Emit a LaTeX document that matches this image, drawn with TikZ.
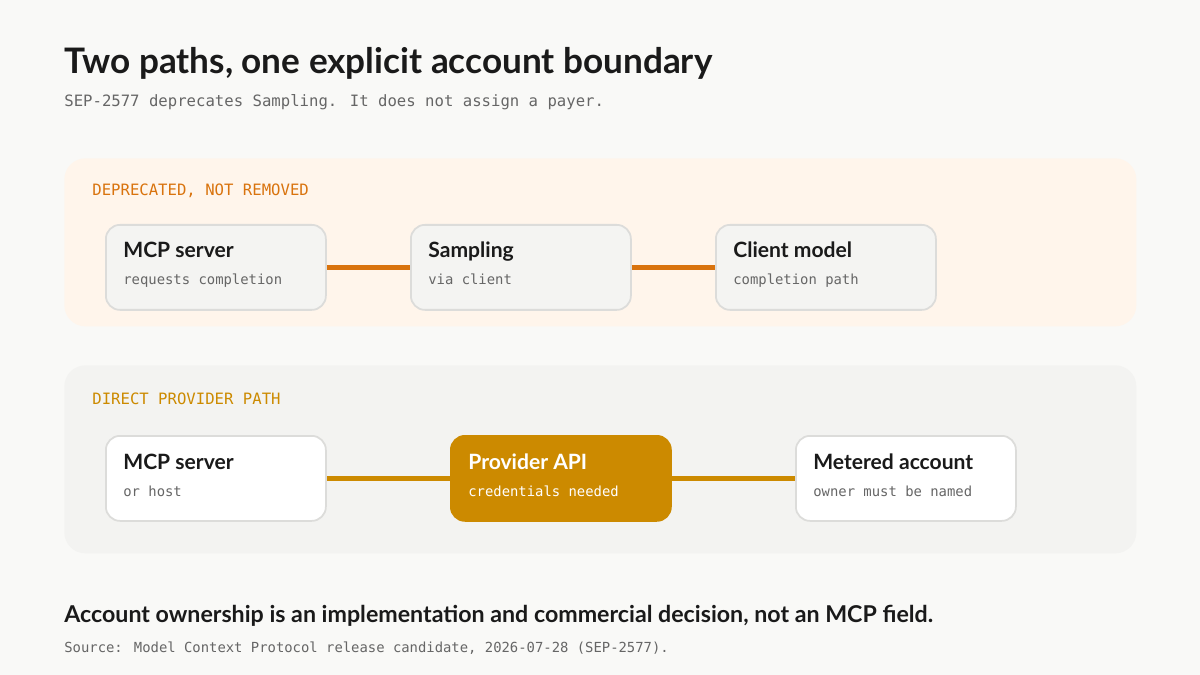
\documentclass[tikz,border=0pt]{standalone}
\usepackage{fontspec}
\setmainfont{Lato}
\newfontfamily\monofont{DejaVu Sans Mono}
\usetikzlibrary{positioning}
\definecolor{bgpage}{HTML}{F9F9F7}
\definecolor{bgtop}{HTML}{FFF5EB}
\definecolor{bgbot}{HTML}{F3F3F1}
\definecolor{boxgray}{HTML}{F4F4F2}
\definecolor{edgegray}{HTML}{DCDCDA}
\definecolor{orangeln}{HTML}{D9730D}
\definecolor{goldln}{HTML}{CC8A00}
\definecolor{ink}{HTML}{1A1A1A}
\definecolor{subink}{HTML}{666666}
\tikzset{
    panel/.style={rounded corners=12pt,draw=none,anchor=north west,inner sep=0},
    card/.style={rounded corners=8pt,draw=edgegray,line width=1pt,anchor=north west,minimum width=220*0.02cm,minimum height=85*0.02cm,inner sep=0},
    head/.style={anchor=base west,font=\bfseries\fontsize{12}{14}\selectfont,text=ink,inner sep=0},
    sub/.style={anchor=base west,font=\monofont\fontsize{7.9}{9}\selectfont,text=subink,inner sep=0},
    tag/.style={anchor=base west,font=\monofont\fontsize{8.9}{10}\selectfont,inner sep=0},
    link/.style={line width=3pt}
}
\def\card#1#2#3#4#5#6{%
  \node[card,fill=#4] (#1) at #2 {};
  \node[head,#6] at ([xshift=18*0.02cm,yshift=-34*0.02cm]#1.north west) {#3};
  \node[sub,#6] at ([xshift=18*0.02cm,yshift=-61*0.02cm]#1.north west) {#5};
}
\begin{document}
\begin{tikzpicture}[x=0.02cm,y=-0.02cm]
  \fill[bgpage] (0,0) rectangle (1200,675);
  \useasboundingbox (0,0) rectangle (1200,675);

  % Title
  \node[anchor=base west,font=\bfseries\fontsize{20}{24}\selectfont,text=ink,inner sep=0] (title) at (64,74) {Two paths, one explicit account boundary};
  \node[tag,text=subink] (subtitle) at (64,107) {SEP-2577 deprecates Sampling. It does not assign a payer.};

  % Panels
  \node[panel,fill=bgtop,minimum width=1072*0.02cm,minimum height=168*0.02cm] (deprec) at (64,158) {};
  \node[panel,fill=bgbot,minimum width=1072*0.02cm,minimum height=188*0.02cm] (direct) at (64,365) {};
  \node[tag,text=orangeln] (deptag) at (92,196) {DEPRECATED, NOT REMOVED};
  \node[tag,text=goldln] (dirtag) at (92,404) {DIRECT PROVIDER PATH};

  % Deprecated path
  \card{srvA}{(105,224)}{MCP server}{boxgray}{requests completion}{}
  \card{smp}{(410,224)}{Sampling}{boxgray}{via client}{}
  \card{cli}{(715,224)}{Client model}{boxgray}{completion path}{}
  \draw[link,orangeln] (srvA) -- (smp);
  \draw[link,orangeln] (smp) -- (cli);

  % Direct path
  \card{srvB}{(105,435)}{MCP server}{white}{or host}{}
  \node[card,fill=goldln,draw=goldln] (api) at (450,435) {};
  \node[head,text=white] at ([xshift=18*0.02cm,yshift=-34*0.02cm]api.north west) {Provider API};
  \node[sub,text=white] at ([xshift=18*0.02cm,yshift=-61*0.02cm]api.north west) {credentials needed};
  \card{acct}{(795,435)}{Metered account}{white}{owner must be named}{}
  \draw[link,goldln] (srvB) -- (api);
  \draw[link,goldln] (api) -- (acct);

  % Footer
  \node[anchor=base west,font=\bfseries\fontsize{13.2}{15}\selectfont,text=ink,inner sep=0] (note) at (64,622) {Account ownership is an implementation and commercial decision, not an MCP field.};
  \node[sub,text=subink] (source) at (64,652) {Source: Model Context Protocol release candidate, 2026-07-28 (SEP-2577).};
\end{tikzpicture}
\end{document}
